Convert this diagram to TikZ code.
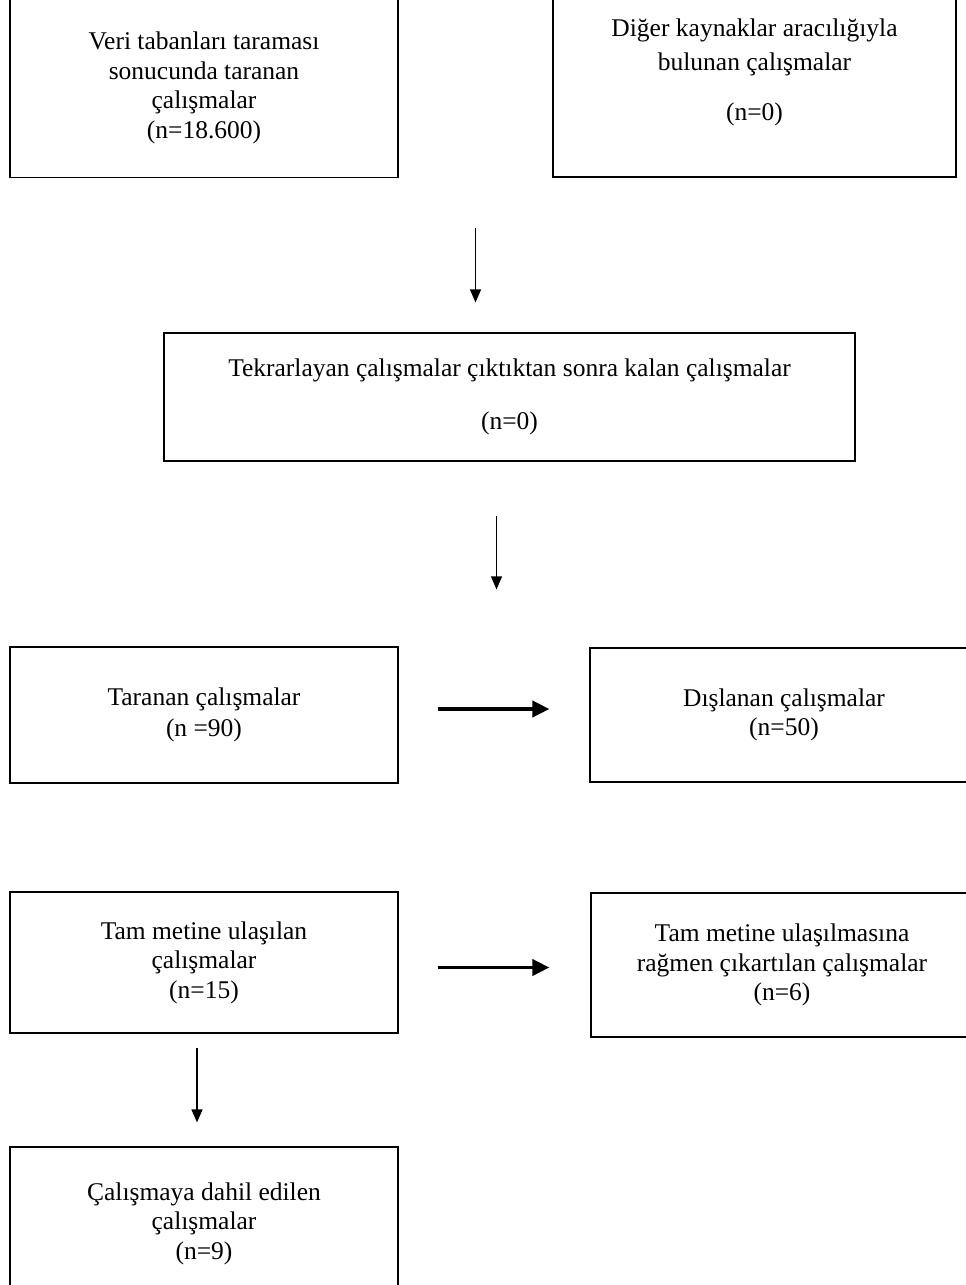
\documentclass[tikz,border=0pt]{standalone}
\usepackage{fontspec}
\setmainfont{Liberation Serif}
\usetikzlibrary{arrows.meta,calc}
\tikzset{
	kutu/.style={draw, line width=1.2pt, inner sep=0pt, align=center, font=\fontsize{25.5}{29.5}\selectfont},
	inceok/.style={->, >={Triangle[length=13pt,width=11pt]}, line width=1.4pt},
	kalinok/.style={->, >={Triangle[length=17pt,width=16pt]}, line width=3.8pt}
}

\begin{document}
\begin{tikzpicture}[x=1pt,y=-1pt]
	\useasboundingbox (0,0) rectangle (966,1285);
	\clip (0,0) rectangle (966,1285);	%boxes run off the page edges
	
	%boxes
	\node[kutu, minimum width=388pt, minimum height=179pt] (veri) at (204,88) 		{Veri tabanları taraması\\sonucunda taranan\\çalışmalar\\(n=18.600)};
	\node[kutu, minimum width=403pt, minimum height=210pt] (diger) at (754.5,72) 	{Diğer kaynaklar aracılığıyla\\[5pt]bulunan çalışmalar\\[20pt](n=0)};
	\node[kutu, minimum width=691pt, minimum height=128pt] (tekrar) at (509.5,397) 	{Tekrarlayan çalışmalar çıktıktan sonra kalan çalışmalar\\[23pt](n=0)};
	\node[kutu, minimum width=388pt, minimum height=136pt] (taranan) at (204,715) 	{Taranan çalışmalar\\[2pt](n =90)};
	\node[kutu, minimum width=388pt, minimum height=134pt] (dislanan) at (784,715) 	{Dışlanan çalışmalar\\(n=50)};
	\node[kutu, minimum width=388pt, minimum height=141pt] (tam) at (204,962.5) 	{Tam metine ulaşılan\\çalışmalar\\(n=15)};
	\node[kutu, minimum width=382pt, minimum height=144pt] (cikart) at (782,965) 	{Tam metine ulaşılmasına\\rağmen çıkartılan çalışmalar\\(n=6)};
	\node[kutu, minimum width=388pt, minimum height=153pt] (dahil) at (204,1223.5) 	{Çalışmaya dahil edilen\\çalışmalar\\(n=9)};
	
	%arrows
	\coordinate (ust) at ($(veri.south east)!.5!(diger.south west)$);
	\draw[inceok, shorten <=50pt, shorten >=30pt] (ust) -- (ust |- tekrar.north);	%top
	\draw[inceok, shorten <=54pt, shorten >=57pt] ([xshift=-13pt]tekrar.south) -- ([xshift=-13pt]tekrar.south |- taranan.north);	%middle
	\draw[kalinok, shorten <=39pt, shorten >=40pt] ([yshift=6pt]taranan.east) -- ([yshift=6pt]taranan.east -| dislanan.west);	%excluded
	\draw[kalinok, shorten <=39pt, shorten >=41pt] ([yshift=-5pt]tam.east) -- ([yshift=-5pt]tam.east -| cikart.west);	%removed
	\draw[inceok, shorten <=14pt, shorten >=24pt] ([xshift=-7pt]tam.south) -- ([xshift=-7pt]tam.south |- dahil.north);	%included
\end{tikzpicture}
\end{document}
